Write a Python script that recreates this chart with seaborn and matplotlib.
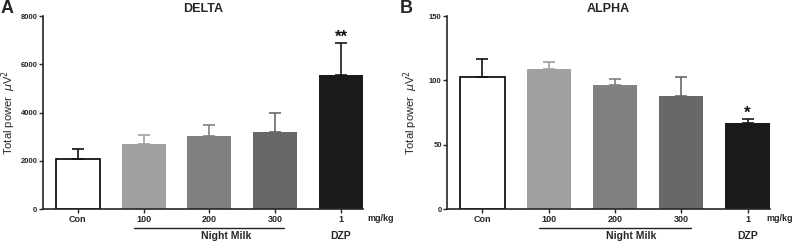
import numpy as np
import pandas as pd
import seaborn as sns
import matplotlib.pyplot as plt

GROUPS = ["Con", "100", "200", "300", "1"]
COLORS = ["#ffffff", "#a0a0a0", "#818181", "#686868", "#1a1a1a"]
ERR_COLORS = ["#111111", "#a0a0a0", "#818181", "#686868", "#1a1a1a"]

DELTA_MEAN = [2080, 2720, 3030, 3210, 5570]
DELTA_SEM = [400, 370, 450, 790, 1320]
ALPHA_MEAN = [103, 109, 96.3, 88.2, 67]
ALPHA_SEM = [13.5, 5.0, 5.0, 14.8, 3.3]

PANELS = [
    ("A", "DELTA", DELTA_MEAN, DELTA_SEM, 8000, [0, 2000, 4000, 6000, 8000], "**", 4.6),
    ("B", "ALPHA", ALPHA_MEAN, ALPHA_SEM, 150, [0, 50, 100, 150], "*", 4.49),
]

sns.set_theme(style="ticks")
plt.rcParams["font.family"] = ["Liberation Sans", "DejaVu Sans"]

fig = plt.figure(figsize=(7.96, 2.43), dpi=100)
positions = [[0.054, 0.139, 0.402, 0.795], [0.562, 0.139, 0.405, 0.795]]
letter_x = [0.001, 0.502]
label_x = [-0.078, -0.085]

for (letter, title, means, sems, ymax, yticks, star, unit_x), pos, lx, yl in zip(
        PANELS, positions, letter_x, label_x):
    ax = fig.add_axes(pos)
    df = pd.DataFrame({"group": GROUPS, "power": means})
    sns.barplot(data=df, x="group", y="power", hue="group", order=GROUPS,
                palette=COLORS, legend=False, width=0.67, ax=ax, saturation=1)
    for i, patch in enumerate(ax.patches):
        if i == 0:
            patch.set_edgecolor("black")
            patch.set_linewidth(1.2)
        else:
            patch.set_linewidth(0)
    for i, (m, s) in enumerate(zip(means, sems)):
        ax.errorbar(i, m, yerr=[[0], [s]], color=ERR_COLORS[i], capsize=4,
                    elinewidth=1.2, capthick=1.2, zorder=1)
    # significance marker above DZP
    ax.text(4, means[4] + sems[4] - ymax * 0.012, star, ha="center", va="bottom",
            fontsize=12, fontweight="bold", color="#111111")

    ax.set_xlim(-0.53, 4.335)
    ax.set_ylim(0, ymax)
    ax.set_yticks(yticks)
    ax.set_xlabel("")
    ax.set_ylabel("Total power  $\\mu$V$^2$", fontsize=8)
    ax.yaxis.set_label_coords(yl, 0.5)
    ax.set_title(title, fontsize=9, fontweight="bold", pad=3)
    ax.tick_params(axis="x", labelsize=6.5, length=3, width=1, pad=1.5)
    ax.tick_params(axis="y", labelsize=5.5, length=3, width=1, pad=1)
    for lab in ax.get_xticklabels() + ax.get_yticklabels():
        lab.set_fontweight("bold")
    sns.despine(ax=ax)
    ax.spines["left"].set_linewidth(1.2)
    ax.spines["bottom"].set_linewidth(1.2)

    xt = ax.get_xaxis_transform()
    ax.text(unit_x, -0.025, "mg/kg", transform=xt, ha="center", va="top",
            fontsize=6.5, fontweight="bold")
    ax.plot([0.85, 3.14], [-0.098, -0.098], transform=xt,
            color="#222222", lw=1, clip_on=False)
    ax.text(2.25, -0.115, "Night Milk", transform=xt, ha="center", va="top",
            fontsize=7.5, fontweight="bold")
    ax.text(4, -0.115, "DZP", transform=xt, ha="center", va="top",
            fontsize=7.5, fontweight="bold")
    fig.text(lx, 0.998, letter, ha="left", va="top", fontsize=13, fontweight="bold")

fig.savefig("out.png", dpi=100)
